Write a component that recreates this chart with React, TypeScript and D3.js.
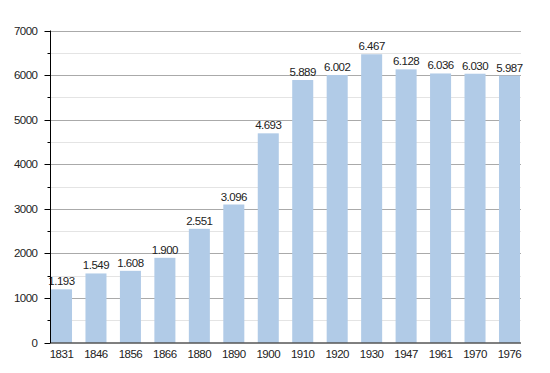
import React, { useEffect, useRef } from "react";
import * as d3 from "d3";

const years = ["1831", "1846", "1856", "1866", "1880", "1890", "1900", "1910", "1920", "1930", "1947", "1961", "1970", "1976"];
const population = [1193, 1549, 1608, 1900, 2551, 3096, 4693, 5889, 6002, 6467, 6128, 6036, 6030, 5987];
const majorTicks = [0, 1000, 2000, 3000, 4000, 5000, 6000, 7000];
const minorTicks = [500, 1500, 2500, 3500, 4500, 5500, 6500];

const width = 550;
const height = 373;

export default function App() {
  const ref = useRef<SVGSVGElement>(null);

  useEffect(() => {
    const svg = d3.select(ref.current);
    svg.selectAll("*").remove();

    const x = d3.scaleBand().domain(years).range([51, 520]).paddingInner(0.39).paddingOuter(0);
    const y = d3.scaleLinear().domain([0, 7000]).range([342.5, 30.5]);
    const left = 50.5;
    const right = 521;
    const font = "Liberation Sans, Arial, sans-serif";

    // grid
    svg.append("g").selectAll("line").data(minorTicks).enter().append("line")
      .attr("x1", left).attr("x2", right)
      .attr("y1", d => Math.round(y(d)) + 0.5).attr("y2", d => Math.round(y(d)) + 0.5)
      .attr("stroke", "#e4e4e4");
    svg.append("g").selectAll("line").data(majorTicks.slice(1)).enter().append("line")
      .attr("x1", left).attr("x2", right)
      .attr("y1", d => Math.round(y(d)) + 0.5).attr("y2", d => Math.round(y(d)) + 0.5)
      .attr("stroke", "#aaaaaa");

    // bars
    svg.append("g").selectAll("rect").data(population).enter().append("rect")
      .attr("x", (d, i) => x(years[i]) as number)
      .attr("width", x.bandwidth())
      .attr("y", d => y(d))
      .attr("height", d => y(0) - y(d))
      .attr("fill", "#b1cbe7");

    // value labels
    svg.append("g").selectAll("text").data(population).enter().append("text")
      .attr("x", (d, i) => (x(years[i]) as number) + x.bandwidth() / 2)
      .attr("y", d => y(d) - 4)
      .attr("text-anchor", "middle")
      .style("font-family", font)
      .style("font-size", "11.5px")
      .style("letter-spacing", "-0.5px")
      .style("fill", "#222")
      .text(d => d3.format(",")(d).replace(",", "."));

    // y axis
    svg.append("line").attr("x1", left).attr("x2", left).attr("y1", y(7000)).attr("y2", y(0) + 0.5)
      .attr("stroke", "#000");
    svg.append("g").selectAll("line").data(majorTicks).enter().append("line")
      .attr("x1", left - 6).attr("x2", left)
      .attr("y1", d => Math.round(y(d)) + 0.5).attr("y2", d => Math.round(y(d)) + 0.5)
      .attr("stroke", "#000");
    svg.append("g").selectAll("line").data(minorTicks).enter().append("line")
      .attr("x1", left - 3).attr("x2", left)
      .attr("y1", d => Math.round(y(d)) + 0.5).attr("y2", d => Math.round(y(d)) + 0.5)
      .attr("stroke", "#000");
    svg.append("g").selectAll("text").data(majorTicks).enter().append("text")
      .attr("x", left - 13)
      .attr("y", d => y(d) + 4)
      .attr("text-anchor", "end")
      .style("font-family", font)
      .style("font-size", "11.5px")
      .style("letter-spacing", "-0.5px")
      .style("fill", "#222")
      .text(d => String(d));

    // x axis
    svg.append("line").attr("x1", left).attr("x2", right).attr("y1", y(0) + 0.5).attr("y2", y(0) + 0.5)
      .attr("stroke", "#000");
    svg.append("g").selectAll("text").data(years).enter().append("text")
      .attr("x", d => (x(d) as number) + x.bandwidth() / 2)
      .attr("y", y(0) + 15)
      .attr("text-anchor", "middle")
      .style("font-family", font)
      .style("font-size", "11.5px")
      .style("letter-spacing", "-0.5px")
      .style("fill", "#222")
      .text(d => d);
  }, []);

  return (
    <svg ref={ref} width={width} height={height}
      style={{ position: "absolute", left: 0, top: 0, background: "#fff" }} />
  );
}
